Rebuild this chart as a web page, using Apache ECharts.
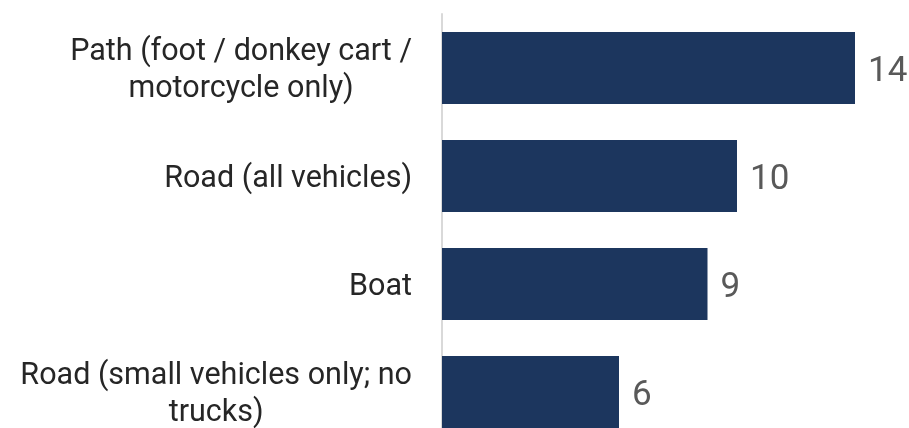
<!DOCTYPE html>
<html>
<head>
<meta charset="utf-8">
<script src="https://cdn.jsdelivr.net/npm/echarts@6/dist/echarts.min.js"></script>
<style>
  html, body { margin: 0; padding: 0; background: #ffffff; overflow: hidden; }
  /* the last row runs past the bottom edge of the window */
  #chart { width: 909px; height: 446px; }
</style>
</head>
<body>
<div id="chart"></div>
<script>
// Access modes, top to bottom
const categories = [
  'Path (foot / donkey cart /\nmotorcycle only)',
  'Road (all vehicles)',
  'Boat',
  'Road (small vehicles only; no\ntrucks)'
];
const counts = [14, 10, 9, 6];

const chart = echarts.init(document.getElementById('chart'), null, { renderer: 'canvas' });

chart.setOption({
  animation: false,
  backgroundColor: '#ffffff',
  grid: { left: 442, top: 14, width: 442.5, bottom: 0, containLabel: false },
  xAxis: {
    type: 'value',
    min: 0,
    max: 15,
    show: false
  },
  yAxis: {
    type: 'category',
    data: categories,
    inverse: true,
    axisLine: { show: true, lineStyle: { color: '#d9d9d9', width: 2 } },
    axisTick: { show: false },
    axisLabel: {
      margin: 30,
      padding: [6, 0, 0, 0],
      fontFamily: 'Roboto',
      fontSize: 30.5,
      lineHeight: 37,
      color: '#262626',
      // lines centred inside a right-aligned block
      formatter: function (v) {
        return v.split('\n').map(function (s) { return '{c|' + s + '}'; }).join('\n');
      },
      rich: {
        c: { align: 'center', fontFamily: 'Roboto', fontSize: 30.5, lineHeight: 37, color: '#262626' }
      }
    }
  },
  series: [{
    type: 'bar',
    data: counts,
    barWidth: 72,
    itemStyle: { color: '#1c365e' },
    label: {
      show: true,
      position: 'right',
      distance: 13,
      offset: [0, 4],
      fontFamily: 'Roboto',
      fontSize: 35,
      color: '#595959'
    }
  }]
});
</script>
</body>
</html>
